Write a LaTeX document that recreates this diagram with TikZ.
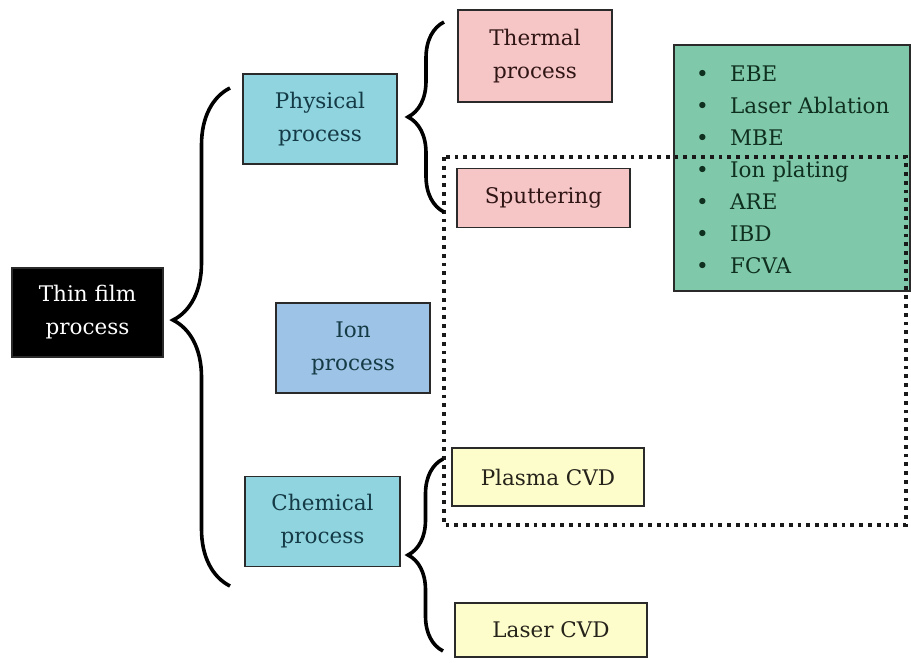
\documentclass[tikz,border=0pt]{standalone}
\usepackage{fontspec}
\setmainfont{DejaVu Serif}
\usetikzlibrary{decorations.pathreplacing}
\definecolor{cyanbox}{HTML}{8FD4DF}
\definecolor{ionbox}{HTML}{9DC3E6}
\definecolor{pinkbox}{HTML}{F6C5C6}
\definecolor{yelbox}{HTML}{FDFCCB}
\definecolor{greenbox}{HTML}{7FC9AA}
\definecolor{tealtext}{HTML}{143A45}
\definecolor{redtext}{HTML}{301515}
\definecolor{yeltext}{HTML}{26231A}
\definecolor{greentext}{HTML}{10301F}
\definecolor{edge}{HTML}{2A2A2A}
\tikzset{
  box/.style={draw=edge, line width=1.3pt, align=center, inner sep=0pt,
    font=\fontsize{21.5}{33}\selectfont},
  bluebox/.style={box, fill=cyanbox, text=tealtext},
  ionstyle/.style={box, fill=ionbox, text=tealtext},
  pinkstyle/.style={box, fill=pinkbox, text=redtext},
  yelstyle/.style={box, fill=yelbox, text=yeltext},
  blackbox/.style={box, fill=black, text=white},
  bracestyle/.style={draw=black, line width=3.6pt, decorate},
  dotline/.style={draw=black!90, line width=3.8pt, dash pattern=on 3.8pt off 5pt},
}
\begin{document}
\begin{tikzpicture}[x=1pt,y=-1pt]
\useasboundingbox[fill=white] (0,0) rectangle (911,662);

% nodes
\node[blackbox, minimum width=151pt, minimum height=89pt] (thin) at (87.5,312.5) {Thin film\\process};
\node[bluebox, minimum width=154pt, minimum height=90pt] (phys) at (320,119) {Physical\\process};
\node[ionstyle, minimum width=154pt, minimum height=90pt] (ion) at (353,348) {Ion\\process};
\node[bluebox, minimum width=155pt, minimum height=90pt] (chem) at (322.5,521.5) {Chemical\\process};
\node[pinkstyle, minimum width=154pt, minimum height=92pt] (therm) at (535,56) {Thermal\\process};
\node[pinkstyle, minimum width=173pt, minimum height=59pt] (sput) at (543.5,198) {Sputtering};
\node[yelstyle, minimum width=192pt, minimum height=58pt] (plasma) at (548,477) {Plasma CVD};
\node[yelstyle, minimum width=192pt, minimum height=54pt] (laser) at (551,630) {Laser CVD};

% green list box
\node[draw=edge, line width=1.3pt, fill=greenbox, minimum width=236pt, minimum height=246pt, inner sep=0pt] (green) at (792,168) {};
\node[anchor=north west, align=left, inner sep=0pt, text=greentext,
  font=\fontsize{21.5}{32}\selectfont] (list) at (696,66)
  {\makebox[34pt][l]{•}EBE\\
   \makebox[34pt][l]{•}Laser Ablation\\
   \makebox[34pt][l]{•}MBE\\
   \makebox[34pt][l]{•}Ion plating\\
   \makebox[34pt][l]{•}ARE\\
   \makebox[34pt][l]{•}IBD\\
   \makebox[34pt][l]{•}FCVA};

% dotted rectangle
\coordinate (dotNW) at (444,157);
\coordinate (dotSE) at (906,525);
\draw[dotline] (dotNW) rectangle (dotSE);

% braces
\coordinate (bigB) at (230,586);
\coordinate (bigT) at (230,88);
\draw[bracestyle, decoration={brace, amplitude=57pt, aspect=0.534}] (bigB) -- (bigT);
\coordinate (upB) at (444,212);
\coordinate (upT) at (444,22);
\draw[bracestyle, decoration={brace, amplitude=36pt, aspect=0.5}] (upB) -- (upT);
\coordinate (loB) at (443,651);
\coordinate (loT) at (443,459);
\draw[bracestyle, decoration={brace, amplitude=35pt, aspect=0.5}] (loB) -- (loT);
\end{tikzpicture}
\end{document}
